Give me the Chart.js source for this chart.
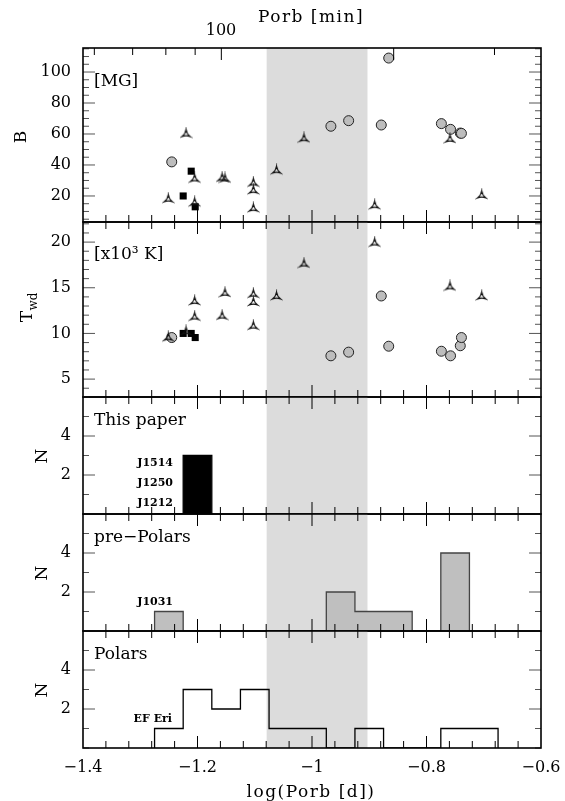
<!DOCTYPE html>
<html>
<head>
<meta charset="utf-8">
<script src="https://cdn.jsdelivr.net/npm/chart.js@4.4.0/dist/chart.umd.min.js"></script>
<style>
  body { margin: 0; background: #fff; width: 565px; height: 801px; position: relative; overflow: hidden; }
  canvas { position: absolute; left: 0; }
</style>
</head>
<body>
<canvas id="pB"></canvas>
<canvas id="pT"></canvas>
<canvas id="pNew"></canvas>
<canvas id="pPre"></canvas>
<canvas id="pPol"></canvas>
<script>
// log(Porb [d]), B [MG], Twd [10^3 K]
// grey circles (pre-polars)
const preP = [-1.245, -0.967, -0.936, -0.879, -0.866, -0.774, -0.758, -0.741, -0.739];
const preB = [42, 65, 68.6, 65.8, 109, 66.7, 63, 60.6, 60.4];
const preT = [9.55, 7.55, 7.95, 14.1, 8.6, 8.05, 7.55, 8.65, 9.55];

// open three-pointed symbols (polars)
const polP = [-1.251, -1.220, -1.205, -1.205, -1.157, -1.152, -1.1025, -1.1025, -1.1025, -1.062, -1.014, -0.8906, -0.759, -0.7036];
const polB = [18.5, 60.6, 31.6, 16.3, 32.2, 31.6, 29, 24.1, 12.5, 37, 57.6, 14.4, 57.2, 21];
const polT = [9.64, 10.3, 13.6, 11.9, 12.0, 14.5, 14.4, 13.5, 10.9, 14.15, 17.7, 20.0, 15.2, 14.15];

// black squares (this paper)
const newP = [-1.225, -1.211, -1.204];
const newB = [20, 36, 13];
const newT = [10.0, 10.0, 9.55];

// histograms, bins of 0.05 starting at -1.275
const binStart = -1.275;
const binWidth = 0.05;
const newCounts = [0, 3];
const preCounts = [1, 0, 0, 0, 0, 0, 2, 1, 1, 0, 4];
const polCounts = [1, 3, 2, 3, 1, 1, 0, 1, 0, 0, 1, 1];

// period gap 2-3 h
const gapLo = Math.log10(2 / 24);
const gapHi = Math.log10(3 / 24);

const xTicks = [-1.4, -1.2, -1, -0.8, -0.6];
const bTicks = [20, 40, 60, 80, 100];
const tTicks = [5, 10, 15, 20];
const nTicks = [2, 4];
const minTicks = [60, 70, 80, 90, 100, 200, 300];

const serif = "'DejaVu Serif', serif";
const edges = [48, 222, 397, 514, 631, 748];

function pts(xs, ys) {
  return xs.map((v, i) => ({ x: v, y: ys[i] }));
}

function steps(counts) {
  let out = [{ x: binStart, y: 0 }];
  counts.forEach((c, i) => out.push({ x: binStart + i * binWidth, y: c }));
  out.push({ x: binStart + counts.length * binWidth, y: 0 });
  return out;
}

function triStar() {
  const c = document.createElement('canvas');
  c.width = 13; c.height = 13;
  const g = c.getContext('2d');
  const cx = 6.5, cy = 7.6, r = 4.8;
  const tips = [-90, 150, 30].map(a => [cx + r * Math.cos(a * Math.PI / 180), cy + r * Math.sin(a * Math.PI / 180)]);
  g.beginPath();
  g.moveTo(tips[0][0], tips[0][1]);
  for (let i = 1; i <= 3; i++) {
    let p0 = tips[i - 1], p = tips[i % 3];
    let mx = (p0[0] + p[0]) / 2, my = (p0[1] + p[1]) / 2;
    g.quadraticCurveTo(mx + 0.7 * (cx - mx), my + 0.7 * (cy - my), p[0], p[1]);
  }
  g.closePath();
  g.lineWidth = 1.1;
  g.strokeStyle = '#111';
  g.stroke();
  return c;
}
const triImg = triStar();

function fmtX(v) {
  return v < 0 ? '\u2212' + String(Math.abs(v)) : String(v);
}

let panelInfo = {};

const panelPlugin = {
  id: 'panel',
  beforeDatasetsDraw(chart) {
    const { ctx, chartArea: a } = chart;
    const x = chart.scales.x;
    const x0 = x.getPixelForValue(gapLo), x1 = x.getPixelForValue(gapHi);
    ctx.save();
    ctx.fillStyle = '#dcdcdc';
    ctx.fillRect(x0, a.top, x1 - x0, a.bottom - a.top);
    ctx.restore();
  },
  afterDraw(chart) {
    const info = panelInfo[chart.canvas.id];
    const { ctx, chartArea: a } = chart;
    const x = chart.scales.x, y = chart.scales.y;
    ctx.save();
    ctx.strokeStyle = '#000';
    ctx.lineWidth = 1;

    // x ticks, bottom and top edges
    for (let k = 1; k < 20; k++) {
      let v = -1.4 + 0.04 * k;
      let px = x.getPixelForValue(v);
      let len = (k % 5 === 0) ? 12 : 7;
      ctx.beginPath();
      ctx.moveTo(px, a.bottom); ctx.lineTo(px, a.bottom - len);
      if (!info.topMinutes) { ctx.moveTo(px, a.top); ctx.lineTo(px, a.top + len); }
      ctx.stroke();
    }
    if (info.topMinutes) {
      minTicks.forEach(m => {
        let px = x.getPixelForValue(Math.log10(m / 1440));
        let len = (m === 100 || m === 200) ? 12 : 7;
        ctx.beginPath();
        ctx.moveTo(px, a.top); ctx.lineTo(px, a.top + len);
        ctx.stroke();
      });
    }

    // y ticks, left and right edges
    ctx.strokeStyle = '#555';
    let start = Math.ceil(y.min / info.minor) * info.minor;
    for (let v = start; v <= y.max + 1e-9; v += info.minor) {
      let py = y.getPixelForValue(v);
      let len = info.major.includes(Math.round(v * 100) / 100) ? 12 : 6;
      ctx.beginPath();
      ctx.moveTo(a.left, py); ctx.lineTo(a.left + len, py);
      ctx.moveTo(a.right, py); ctx.lineTo(a.right - len, py);
      ctx.stroke();
    }

    // frame
    ctx.strokeStyle = '#000';
    ctx.lineWidth = 1.6;
    ctx.strokeRect(a.left, a.top, a.right - a.left, a.bottom - a.top);

    // texts (page coordinates)
    ctx.fillStyle = '#000';
    ctx.textBaseline = 'middle';
    info.texts.forEach(t => {
      ctx.font = t.font;
      ctx.textAlign = t.align || 'left';
      ctx.letterSpacing = t.spacing || '0px';
      ctx.fillText(t.s, t.x, t.y - info.top);
    });
    ctx.letterSpacing = '0px';

    // rotated y titles
    ctx.textAlign = 'center';
    info.ytitle.forEach(t => {
      ctx.save();
      ctx.translate(t.x, t.y - info.top);
      ctx.rotate(-Math.PI / 2);
      ctx.font = t.font;
      ctx.fillText(t.s, t.dx || 0, t.dy || 0);
      ctx.restore();
    });
    ctx.restore();
  }
};

function makePanel(id, idx, yMin, yMax, yTicks, minor, datasets, texts, ytitle) {
  const top = idx === 0 ? 0 : edges[idx] - 4;
  const last = idx === 4;
  const bottom = last ? 801 : edges[idx + 1] + 4;
  const cv = document.getElementById(id);
  cv.width = 565;
  cv.height = bottom - top;
  cv.style.top = top + 'px';
  panelInfo[id] = { top: top, minor: minor, major: yTicks, texts: texts, ytitle: ytitle, topMinutes: idx === 0 };

  return new Chart(cv, {
    type: 'scatter',
    data: { datasets: datasets },
    options: {
      responsive: false,
      animation: false,
      devicePixelRatio: 1,
      events: [],
      layout: {
        autoPadding: false,
        padding: { top: edges[idx] - top, bottom: last ? 0 : bottom - edges[idx + 1], left: 0, right: 24 }
      },
      plugins: { legend: { display: false }, tooltip: { enabled: false } },
      scales: {
        x: {
          type: 'linear', min: -1.4, max: -0.6,
          grid: { display: false, drawTicks: false },
          border: { display: false },
          afterBuildTicks: s => { s.ticks = xTicks.map(v => ({ value: v })); },
          afterFit: s => { s.height = last ? 801 - edges[5] : 0; s.paddingLeft = 0; s.paddingRight = 0; },
          ticks: { display: last, padding: 10, maxRotation: 0, color: '#000', font: { family: serif, size: 16 }, callback: v => fmtX(v) }
        },
        y: {
          type: 'linear', min: yMin, max: yMax,
          grid: { display: false, drawTicks: false },
          border: { display: false },
          afterBuildTicks: s => { s.ticks = yTicks.map(v => ({ value: v })); },
          afterFit: s => { s.width = 83; s.paddingTop = 0; s.paddingBottom = 0; },
          ticks: { padding: 12, color: '#000', font: { family: serif, size: 16 }, callback: v => String(v) }
        }
      }
    },
    plugins: [panelPlugin]
  });
}

function scatterSets(which) {
  const src = which === 'B' ? [polB, newB, preB] : [polT, newT, preT];
  return [
    { data: pts(polP, src[0]), pointStyle: triImg, pointRadius: 5 },
    { data: pts(newP, src[1]), pointStyle: 'rect', pointRadius: 5, backgroundColor: '#000', borderColor: '#000', borderWidth: 0 },
    { data: pts(preP, src[2]), pointStyle: 'circle', pointRadius: 5, backgroundColor: '#bdbdbd', borderColor: '#222', borderWidth: 1 }
  ];
}

function histSet(counts, fillCol, lineCol) {
  return {
    type: 'line',
    data: steps(counts),
    stepped: 'before',
    fill: fillCol ? 'origin' : false,
    backgroundColor: fillCol || 'rgba(0,0,0,0)',
    borderColor: lineCol,
    borderWidth: 1.3,
    pointRadius: 0
  };
}

const f17 = '17px ' + serif;
const fSmall = 'bold 11px ' + serif;

makePanel('pB', 0, 3.2, 115.5, bTicks, 5, scatterSets('B'),
  [
    { s: 'Porb [min]', x: 311, y: 18, font: f17, align: 'center', spacing: '1.5px' },
    { s: '100', x: 221, y: 31, font: '16px ' + serif, align: 'center' },
    { s: '[MG]', x: 94, y: 82, font: f17 }
  ],
  [{ s: 'B', x: 22, y: 137, font: f17 }]
);

makePanel('pT', 1, 3.04, 22.2, tTicks, 1, scatterSets('T'),
  [{ s: '[x10\u00b3 K]', x: 94, y: 255, font: f17 }],
  [
    { s: 'T', x: 28, y: 316.5, font: f17 },
    { s: 'wd', x: 28, y: 316.5, dx: 15, dy: 6, font: '12px ' + serif }
  ]
);

makePanel('pNew', 2, 0, 6, nTicks, 1, [histSet(newCounts, '#000', '#000')],
  [
    { s: 'This paper', x: 94, y: 421, font: f17 },
    { s: 'J1514', x: 173, y: 463, font: fSmall, align: 'right' },
    { s: 'J1250', x: 173, y: 483, font: fSmall, align: 'right' },
    { s: 'J1212', x: 173, y: 503, font: fSmall, align: 'right' }
  ],
  [{ s: 'N', x: 43, y: 456, font: f17 }]
);

makePanel('pPre', 3, 0, 6, nTicks, 1, [histSet(preCounts, '#bfbfbf', '#444')],
  [
    { s: 'pre\u2212Polars', x: 94, y: 538, font: f17 },
    { s: 'J1031', x: 173, y: 602, font: fSmall, align: 'right' }
  ],
  [{ s: 'N', x: 43, y: 573, font: f17 }]
);

makePanel('pPol', 4, 0, 6, nTicks, 1, [histSet(polCounts, null, '#000')],
  [
    { s: 'Polars', x: 94, y: 655, font: f17 },
    { s: 'EF Eri', x: 172, y: 719, font: fSmall, align: 'right' },
    { s: 'log(Porb [d])', x: 311, y: 793, font: f17, align: 'center', spacing: '1.5px' }
  ],
  [{ s: 'N', x: 43, y: 690, font: f17 }]
);
</script>
</body>
</html>
